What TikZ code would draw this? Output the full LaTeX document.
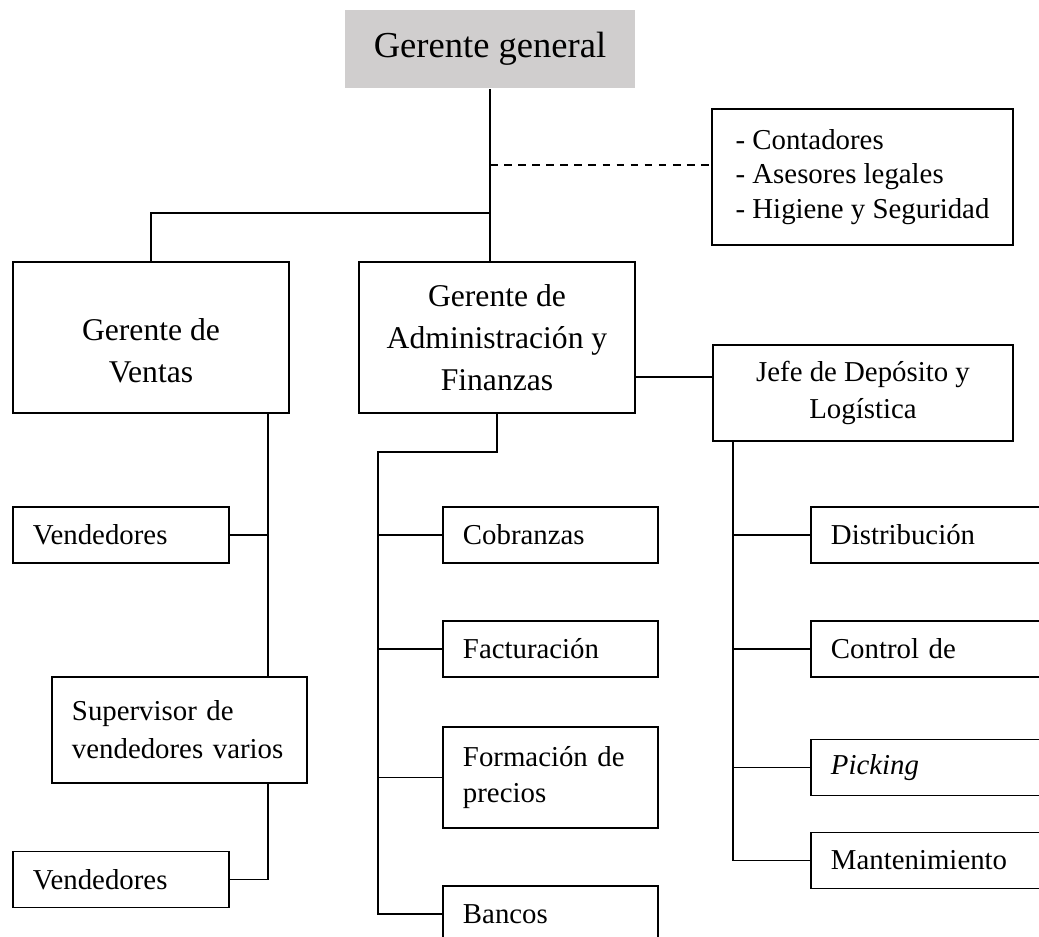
\documentclass[tikz,border=0pt]{standalone}
\usepackage{fontspec}
\setmainfont{Liberation Serif}
\definecolor{headgray}{RGB}{208,206,206}
\begin{document}
\begin{tikzpicture}[x=0.025cm,y=-0.025cm,line width=1.3pt,
	txt/.style={font=\fontsize{20.5}{24.5}\selectfont},
	big/.style={font=\fontsize{22.5}{30}\selectfont},
	box/.style={draw,txt,inner sep=0pt},
	leaf/.style={box,align=left,text width=#1,inner xsep=0.5cm,minimum height=1.4cm},
	chief/.style={box,big,align=center,minimum width=6.9cm}]
	\path[use as bounding box] (0,0) rectangle (1039,937);
	\clip (0,0) rectangle (1039,937);
	% top of the chart
	\node[fill=headgray,font=\fontsize{26}{30}\selectfont,minimum width=7.25cm,minimum height=1.95cm] (gg) at (490,49) {Gerente general};
	\node[box,align=left,minimum width=7.525cm,minimum height=3.4cm] (aux) at (862.5,177) {- Contadores\\- Asesores legales\\- Higiene y Seguridad};
	\node[chief,minimum height=3.775cm] (ven) at (151,337.5) {\rule{0pt}{35pt}Gerente de\\Ventas};
	\node[chief,minimum height=3.775cm] (adm) at (497,337.5) {Gerente de\\Administración y\\Finanzas};
	\node[box,align=center,minimum width=7.5cm,minimum height=2.4cm,font=\fontsize{20.5}{26}\selectfont] (jefe) at (863,393) {Jefe de Depósito y\\Logística};
	% ventas
	\node[leaf=4.4cm] (vend1) at (121,535) {Vendedores};
	\node[leaf=5.375cm,minimum height=2.65cm,font=\fontsize{20.5}{27}\selectfont] (sup) at (179.5,730) {Supervisor de\\vendedores varios};
	\node[leaf=4.4cm] (vend2) at (121,879.5) {Vendedores};
	% administracion
	\node[leaf=4.375cm] (cob) at (550.5,535) {Cobranzas};
	\node[leaf=4.375cm] (fac) at (550.5,649) {Facturación};
	\node[leaf=4.375cm,minimum height=2.525cm,font=\fontsize{20.5}{25}\selectfont] (for) at (550.5,777.5) {Formación de\\precios};
	\node[leaf=4.375cm] (ban) at (550.5,914) {Bancos};
	% deposito
	\node[leaf=5.475cm] (dis) at (940.5,535) {Distribución};
	\node[leaf=5.475cm] (con) at (940.5,649) {Control de};
	\node[leaf=5.475cm] (pic) at (940.5,767.5) {\textit{Picking}};
	\node[leaf=5.475cm] (man) at (940.5,860.5) {Mantenimiento};
	% connectors
	\coordinate (dsh) at (490,165);
	\coordinate (vj) at (490,213);
	\coordinate (lk) at (0,377);
	\coordinate (vx) at (268,0);
	\coordinate (ax) at (378,452);
	\coordinate (jx) at (733,0);
	\draw (gg.south) -- (gg.south |- adm.north);
	\draw[dash pattern=on 5.5pt off 4.5pt] (dsh) -- (dsh -| aux.west);
	\draw (vj) -- (vj -| ven.north) -- (ven.north);
	\draw (adm.east |- lk) -- (jefe.west |- lk);
	\draw (vx |- ven.south) -- (vx |- sup.north);
	\draw (vend1.east) -- (vend1.east -| vx);
	\draw (vx |- sup.south) -- (vx |- vend2.east) -- (vend2.east);
	\draw (adm.south) -- (adm.south |- ax) -- (ax) -- (ax |- ban.west) -- (ban.west);
	\foreach \n in {cob,fac,for}
		\draw (ax |- \n.west) -- (\n.west);
	\draw (jx |- jefe.south) -- (jx |- man.west) -- (man.west);
	\foreach \n in {dis,con,pic}
		\draw (jx |- \n.west) -- (\n.west);
\end{tikzpicture}
\end{document}
